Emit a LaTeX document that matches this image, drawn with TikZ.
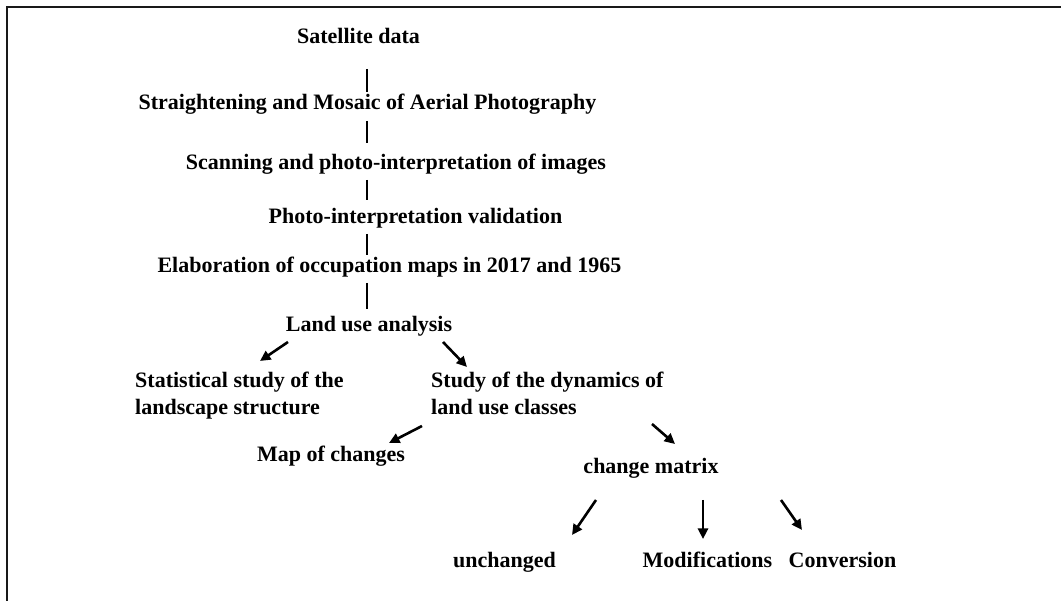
\documentclass[tikz,border=0pt]{standalone}
\usepackage{fontspec}
\setmainfont{Liberation Serif}
\usetikzlibrary{arrows.meta}
\begin{document}
\begin{tikzpicture}[x=1pt,y=-1pt,
  lbl/.style={inner sep=0pt, text=black, font=\bfseries\fontsize{22}{27}\selectfont, anchor=base},
  ml/.style={lbl, align=left, anchor=base west},
  vline/.style={line width=2.8pt, draw=black},
  arr/.style={line width=2.6pt, draw=black, -{Triangle[length=10.5pt,width=10pt]}},
  frame/.style={line width=2pt, draw=black!90}]
\useasboundingbox[fill=white] (0,0) rectangle (1061,601);
% frame (top and left edges)
\draw[frame] (7,601) -- (7,7) -- (1061,7);
% nodes
\node[lbl] (sat)   at (358.5,44)  {Satellite data};
\node[lbl] (str)   at (367.5,110) {Straightening and Mosaic of Aerial Photography};
\node[lbl] (scan)  at (396,170)   {Scanning and photo-interpretation of images};
\node[lbl] (photo) at (415.5,224) {Photo-interpretation validation};
\node[lbl] (elab)  at (389.5,273) {Elaboration of occupation maps in 2017 and 1965};
\node[lbl] (land)  at (369,332)   {Land use analysis};
\node[ml]  (stat)  at (135,415)   {Statistical study of the\\landscape structure};
\node[ml]  (study) at (431,415)   {Study of the dynamics of\\land use classes};
\node[lbl] (map)   at (331,462)   {Map of changes};
\node[lbl] (cm)    at (651,474)   {change matrix};
\node[lbl] (unch)  at (504.5,568) {unchanged};
\node[lbl] (mod)   at (707.5,568) {Modifications};
\node[lbl] (conv)  at (842.5,568) {Conversion};
% vertical connectors
\draw[vline] ([shift={(8.5,25)}]sat.base)     -- ([shift={(-0.5,-18)}]str.base);
\draw[vline] ([shift={(-0.5,11)}]str.base)    -- ([shift={(-29,-27)}]scan.base);
\draw[vline] ([shift={(-29,10)}]scan.base)    -- ([shift={(-48.5,-24)}]photo.base);
\draw[vline] ([shift={(-48.5,10)}]photo.base) -- ([shift={(-22.5,-18)}]elab.base);
\draw[vline] ([shift={(-22.5,10)}]elab.base)  -- ([shift={(-2,-23)}]land.base);
% arrows
\draw[arr] ([shift={(-81,10)}]land.base)      -- ([shift={(125,-54)}]stat.base west);
\draw[arr] ([shift={(74,10)}]land.base)       -- ([shift={(36,-48)}]study.base west);
\draw[arr] ([shift={(-9,11)}]study.base west) -- ([shift={(58,-19)}]map.base);
\draw[arr] ([shift={(221,9)}]study.base west) -- ([shift={(24,-30)}]cm.base);
\draw[arr] ([shift={(-55,26)}]cm.base)        -- ([shift={(67.5,-33)}]unch.base);
\draw[arr] ([shift={(52,26)}]cm.base)         -- ([shift={(-4.5,-29)}]mod.base);
\draw[arr] ([shift={(130,26)}]cm.base)        -- ([shift={(-40.5,-38)}]conv.base);
\end{tikzpicture}
\end{document}
